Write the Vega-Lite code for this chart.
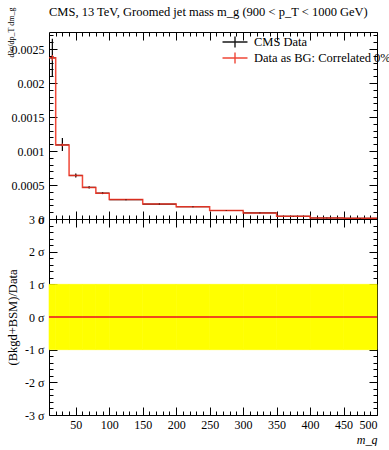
{
  "$schema": "https://vega.github.io/schema/vega-lite/v6.json",
  "autosize": "pad",
  "padding": {"left": 5, "top": 6, "right": 0, "bottom": 0},
  "background": "white",
  "title": {"text": "CMS, 13 TeV, Groomed jet mass m_g (900 < p_T < 1000 GeV)", "anchor": "start", "frame": "group", "offset": -12, "font": "Liberation Serif", "fontSize": 12.5, "fontWeight": "normal", "color": "#000"},
  "datasets": {
    "cms": [
      {"series": "CMS Data", "lo": 10, "hi": 20, "mid": 15, "val": 0.00237, "ylo": 0.00209, "yhi": 0.00265},
      {"series": "CMS Data", "lo": 20, "hi": 40, "mid": 30, "val": 0.00109, "ylo": 0.001, "yhi": 0.00119},
      {"series": "CMS Data", "lo": 40, "hi": 60, "mid": 50, "val": 0.00064, "ylo": 0.00061, "yhi": 0.00067},
      {"series": "CMS Data", "lo": 60, "hi": 80, "mid": 70, "val": 0.000465, "ylo": 0.000447, "yhi": 0.000483},
      {"series": "CMS Data", "lo": 80, "hi": 100, "mid": 90, "val": 0.00038, "ylo": 0.000366, "yhi": 0.000394},
      {"series": "CMS Data", "lo": 100, "hi": 150, "mid": 125, "val": 0.000285, "ylo": 0.000276, "yhi": 0.000294},
      {"series": "CMS Data", "lo": 150, "hi": 200, "mid": 175, "val": 0.00022, "ylo": 0.000212, "yhi": 0.000228},
      {"series": "CMS Data", "lo": 200, "hi": 250, "mid": 225, "val": 0.00018, "ylo": 0.000173, "yhi": 0.000187},
      {"series": "CMS Data", "lo": 250, "hi": 300, "mid": 275, "val": 0.000125, "ylo": 0.000119, "yhi": 0.000131},
      {"series": "CMS Data", "lo": 300, "hi": 350, "mid": 325, "val": 0.00009, "ylo": 0.000085, "yhi": 0.000095},
      {"series": "CMS Data", "lo": 350, "hi": 400, "mid": 375, "val": 0.00004, "ylo": 0.000036, "yhi": 0.000044},
      {"series": "CMS Data", "lo": 400, "hi": 450, "mid": 425, "val": 0.000015, "ylo": 0.000012, "yhi": 0.000018},
      {"series": "CMS Data", "lo": 450, "hi": 500, "mid": 475, "val": 0.00001, "ylo": 0.000007, "yhi": 0.000013}
    ],
    "bg": [
      {"series": "Data as BG: Correlated 0%", "lo": 10, "hi": 20, "mid": 15, "val": 0.00237, "ylo": 0.00233, "yhi": 0.00241, "ratio": 0},
      {"series": "Data as BG: Correlated 0%", "lo": 20, "hi": 40, "mid": 30, "val": 0.00109, "ylo": 0.00107, "yhi": 0.00111, "ratio": 0},
      {"series": "Data as BG: Correlated 0%", "lo": 40, "hi": 60, "mid": 50, "val": 0.00064, "ylo": 0.000625, "yhi": 0.000655, "ratio": 0},
      {"series": "Data as BG: Correlated 0%", "lo": 60, "hi": 80, "mid": 70, "val": 0.000465, "ylo": 0.000455, "yhi": 0.000475, "ratio": 0},
      {"series": "Data as BG: Correlated 0%", "lo": 80, "hi": 100, "mid": 90, "val": 0.00038, "ylo": 0.000372, "yhi": 0.000388, "ratio": 0},
      {"series": "Data as BG: Correlated 0%", "lo": 100, "hi": 150, "mid": 125, "val": 0.000285, "ylo": 0.00028, "yhi": 0.00029, "ratio": 0},
      {"series": "Data as BG: Correlated 0%", "lo": 150, "hi": 200, "mid": 175, "val": 0.00022, "ylo": 0.000216, "yhi": 0.000224, "ratio": 0},
      {"series": "Data as BG: Correlated 0%", "lo": 200, "hi": 250, "mid": 225, "val": 0.00018, "ylo": 0.000177, "yhi": 0.000183, "ratio": 0},
      {"series": "Data as BG: Correlated 0%", "lo": 250, "hi": 300, "mid": 275, "val": 0.000125, "ylo": 0.000122, "yhi": 0.000128, "ratio": 0},
      {"series": "Data as BG: Correlated 0%", "lo": 300, "hi": 350, "mid": 325, "val": 0.00009, "ylo": 0.000088, "yhi": 0.000092, "ratio": 0},
      {"series": "Data as BG: Correlated 0%", "lo": 350, "hi": 400, "mid": 375, "val": 0.00004, "ylo": 0.000038, "yhi": 0.000042, "ratio": 0},
      {"series": "Data as BG: Correlated 0%", "lo": 400, "hi": 450, "mid": 425, "val": 0.000015, "ylo": 0.000014, "yhi": 0.000016, "ratio": 0},
      {"series": "Data as BG: Correlated 0%", "lo": 450, "hi": 500, "mid": 475, "val": 0.00001, "ylo": 0.000009, "yhi": 0.000011, "ratio": 0}
    ]
  },
  "spacing": 0,
  "bounds": "flush",
  "vconcat": [
    {
      "width": 328,
      "height": 187,
      "layer": [
        {
          "data": {"name": "cms"},
          "mark": {"type": "rule", "strokeWidth": 1.2},
          "encoding": {
            "x": {"field": "lo", "type": "quantitative", "scale": {"domain": [10, 500], "nice": false, "zero": false},
                  "axis": {"orient": "bottom", "values": [50, 100, 150, 200, 250, 300, 350, 400, 450, 500], "labels": false, "tickSize": -8, "title": null}},
            "x2": {"field": "hi"},
            "y": {"field": "val", "type": "quantitative", "scale": {"domain": [0, 0.00275], "nice": false, "zero": false},
                  "axis": {"orient": "left", "values": [0, 0.0005, 0.001, 0.0015, 0.002, 0.0025], "labelExpr": "'' + datum.value", "tickSize": -8, "labelPadding": 13,
                           "title": "d²σ/dp_T dm_g", "titleFontSize": 8, "titleAngle": -90, "titleAlign": "right", "titleBaseline": "middle", "titleX": -38, "titleY": -25}},
            "color": {"field": "series", "type": "nominal", "scale": {"domain": ["CMS Data", "Data as BG: Correlated 0%"], "range": ["#000000", "#ee3322"]},
                      "legend": {"title": null, "orient": "none", "legendX": 179, "legendY": 3, "padding": 0, "symbolType": "M-2,0H2M0,-0.9V0.9", "symbolSize": 156, "symbolStrokeWidth": 1.4, "symbolFillColor": "transparent", "labelOffset": 12, "labelFont": "Liberation Serif", "labelFontSize": 12.5, "labelColor": "#000", "rowPadding": -7, "labelLimit": 400}}
          }
        },
        {
          "data": {"name": "bg"},
          "transform": [{"fold": ["lo", "hi"], "as": ["edge", "x"]}],
          "mark": {"type": "line", "strokeWidth": 1.5, "opacity": 0.9},
          "encoding": {
            "x": {"field": "x", "type": "quantitative",
                  "axis": {"orient": "bottom", "values": [20, 30, 40, 60, 70, 80, 90, 110, 120, 130, 140, 160, 170, 180, 190, 210, 220, 230, 240, 260, 270, 280, 290, 310, 320, 330, 340, 360, 370, 380, 390, 410, 420, 430, 440, 460, 470, 480, 490], "labels": false, "tickSize": -4, "title": null}},
            "y": {"field": "val", "type": "quantitative",
                  "axis": {"orient": "left", "values": [0.0001, 0.0002, 0.0003, 0.0004, 0.0006, 0.0007, 0.0008, 0.0009, 0.0011, 0.0012, 0.0013, 0.0014, 0.0016, 0.0017, 0.0018, 0.0019, 0.0021, 0.0022, 0.0023, 0.0024, 0.0026, 0.0027], "labels": false, "tickSize": -4, "title": null}},
            "order": [{"field": "x", "type": "quantitative"}, {"field": "lo", "type": "quantitative"}],
            "color": {"field": "series", "type": "nominal"}
          }
        },
        {
          "data": {"name": "cms"},
          "mark": {"type": "rule", "strokeWidth": 1.2},
          "encoding": {
            "x": {"field": "mid", "type": "quantitative",
                  "axis": {"orient": "top", "values": [50, 100, 150, 200, 250, 300, 350, 400, 450, 500], "labels": false, "tickSize": -8, "title": null}},
            "y": {"field": "ylo", "type": "quantitative",
                  "axis": {"orient": "right", "values": [0, 0.0005, 0.001, 0.0015, 0.002, 0.0025], "labels": false, "tickSize": -8, "title": null}},
            "y2": {"field": "yhi"},
            "color": {"field": "series", "type": "nominal"}
          }
        },
        {
          "data": {"name": "bg"},
          "mark": {"type": "rule", "strokeWidth": 1.2},
          "encoding": {
            "x": {"field": "mid", "type": "quantitative",
                  "axis": {"orient": "top", "values": [20, 30, 40, 60, 70, 80, 90, 110, 120, 130, 140, 160, 170, 180, 190, 210, 220, 230, 240, 260, 270, 280, 290, 310, 320, 330, 340, 360, 370, 380, 390, 410, 420, 430, 440, 460, 470, 480, 490], "labels": false, "tickSize": -4, "title": null}},
            "y": {"field": "ylo", "type": "quantitative",
                  "axis": {"orient": "right", "values": [0.0001, 0.0002, 0.0003, 0.0004, 0.0006, 0.0007, 0.0008, 0.0009, 0.0011, 0.0012, 0.0013, 0.0014, 0.0016, 0.0017, 0.0018, 0.0019, 0.0021, 0.0022, 0.0023, 0.0024, 0.0026, 0.0027], "labels": false, "tickSize": -4, "title": null}},
            "y2": {"field": "yhi"},
            "color": {"field": "series", "type": "nominal"}
          }
        }
      ],
      "resolve": {"axis": {"x": "independent", "y": "independent"}}
    },
    {
      "width": 328,
      "height": 196,
      "layer": [
        {
          "data": {"name": "cms"},
          "mark": {"type": "rect", "color": "#ffff00", "stroke": "#ffff00", "strokeWidth": 0.6},
          "encoding": {
            "x": {"field": "lo", "type": "quantitative", "scale": {"domain": [10, 500], "nice": false, "zero": false},
                  "axis": {"orient": "bottom", "values": [50, 100, 150, 200, 250, 300, 350, 400, 450, 500], "tickSize": -8, "labelPadding": 12,
                           "title": "m_g", "titleFontStyle": "italic", "titleFontSize": 12, "titleAnchor": "end", "titlePadding": 4}},
            "x2": {"field": "hi"},
            "y": {"datum": -1, "type": "quantitative", "scale": {"domain": [-3, 3], "nice": false, "zero": false},
                  "axis": {"orient": "left", "values": [-3, -2, -1, 0, 1, 2, 3], "labelExpr": "datum.value + ' σ'", "tickSize": -8, "labelPadding": 13,
                           "title": "(Bkgd+BSM)/Data", "titleFontSize": 12.5, "titleAngle": -90, "titleAlign": "center", "titleBaseline": "middle", "titleX": -37, "titleY": 98}},
            "y2": {"datum": 1}
          }
        },
        {
          "data": {"name": "bg"},
          "transform": [{"fold": ["lo", "hi"], "as": ["edge", "x"]}],
          "mark": {"type": "line", "strokeWidth": 1.5, "color": "#ee3322", "opacity": 0.9},
          "encoding": {
            "x": {"field": "x", "type": "quantitative",
                  "axis": {"orient": "bottom", "values": [20, 30, 40, 60, 70, 80, 90, 110, 120, 130, 140, 160, 170, 180, 190, 210, 220, 230, 240, 260, 270, 280, 290, 310, 320, 330, 340, 360, 370, 380, 390, 410, 420, 430, 440, 460, 470, 480, 490], "labels": false, "tickSize": -4, "title": null}},
            "y": {"field": "ratio", "type": "quantitative",
                  "axis": {"orient": "left", "values": [-2.8, -2.6, -2.4, -2.2, -1.8, -1.6, -1.4, -1.2, -0.8, -0.6, -0.4, -0.2, 0.2, 0.4, 0.6, 0.8, 1.2, 1.4, 1.6, 1.8, 2.2, 2.4, 2.6, 2.8], "labels": false, "tickSize": -4, "title": null}},
            "order": [{"field": "x", "type": "quantitative"}, {"field": "lo", "type": "quantitative"}]
          }
        },
        {
          "data": {"name": "bg"},
          "mark": {"type": "rule", "strokeWidth": 1.5, "color": "#ee3322", "opacity": 0.9},
          "encoding": {
            "x": {"field": "lo", "type": "quantitative",
                  "axis": {"orient": "top", "values": [50, 100, 150, 200, 250, 300, 350, 400, 450, 500], "labels": false, "tickSize": -8, "title": null}},
            "x2": {"field": "hi"},
            "y": {"field": "ratio", "type": "quantitative",
                  "axis": {"orient": "right", "values": [-3, -2, -1, 0, 1, 2, 3], "labels": false, "tickSize": -8, "title": null}}
          }
        },
        {
          "data": {"name": "bg"},
          "mark": {"type": "point", "opacity": 0},
          "encoding": {
            "x": {"field": "mid", "type": "quantitative",
                  "axis": {"orient": "top", "values": [20, 30, 40, 60, 70, 80, 90, 110, 120, 130, 140, 160, 170, 180, 190, 210, 220, 230, 240, 260, 270, 280, 290, 310, 320, 330, 340, 360, 370, 380, 390, 410, 420, 430, 440, 460, 470, 480, 490], "labels": false, "tickSize": -4, "title": null}},
            "y": {"field": "ratio", "type": "quantitative",
                  "axis": {"orient": "right", "values": [-2.8, -2.6, -2.4, -2.2, -1.8, -1.6, -1.4, -1.2, -0.8, -0.6, -0.4, -0.2, 0.2, 0.4, 0.6, 0.8, 1.2, 1.4, 1.6, 1.8, 2.2, 2.4, 2.6, 2.8], "labels": false, "tickSize": -4, "title": null}}
          }
        }
      ],
      "resolve": {"axis": {"x": "independent", "y": "independent"}}
    }
  ],
  "config": {
    "view": {"stroke": "#000", "strokeWidth": 1},
    "axis": {"grid": false, "domain": false, "tickColor": "#000", "tickWidth": 1, "labelFont": "Liberation Serif", "labelFontSize": 12, "labelColor": "#000", "titleFont": "Liberation Serif", "titleFontWeight": "normal", "titleColor": "#000"}
  }
}
